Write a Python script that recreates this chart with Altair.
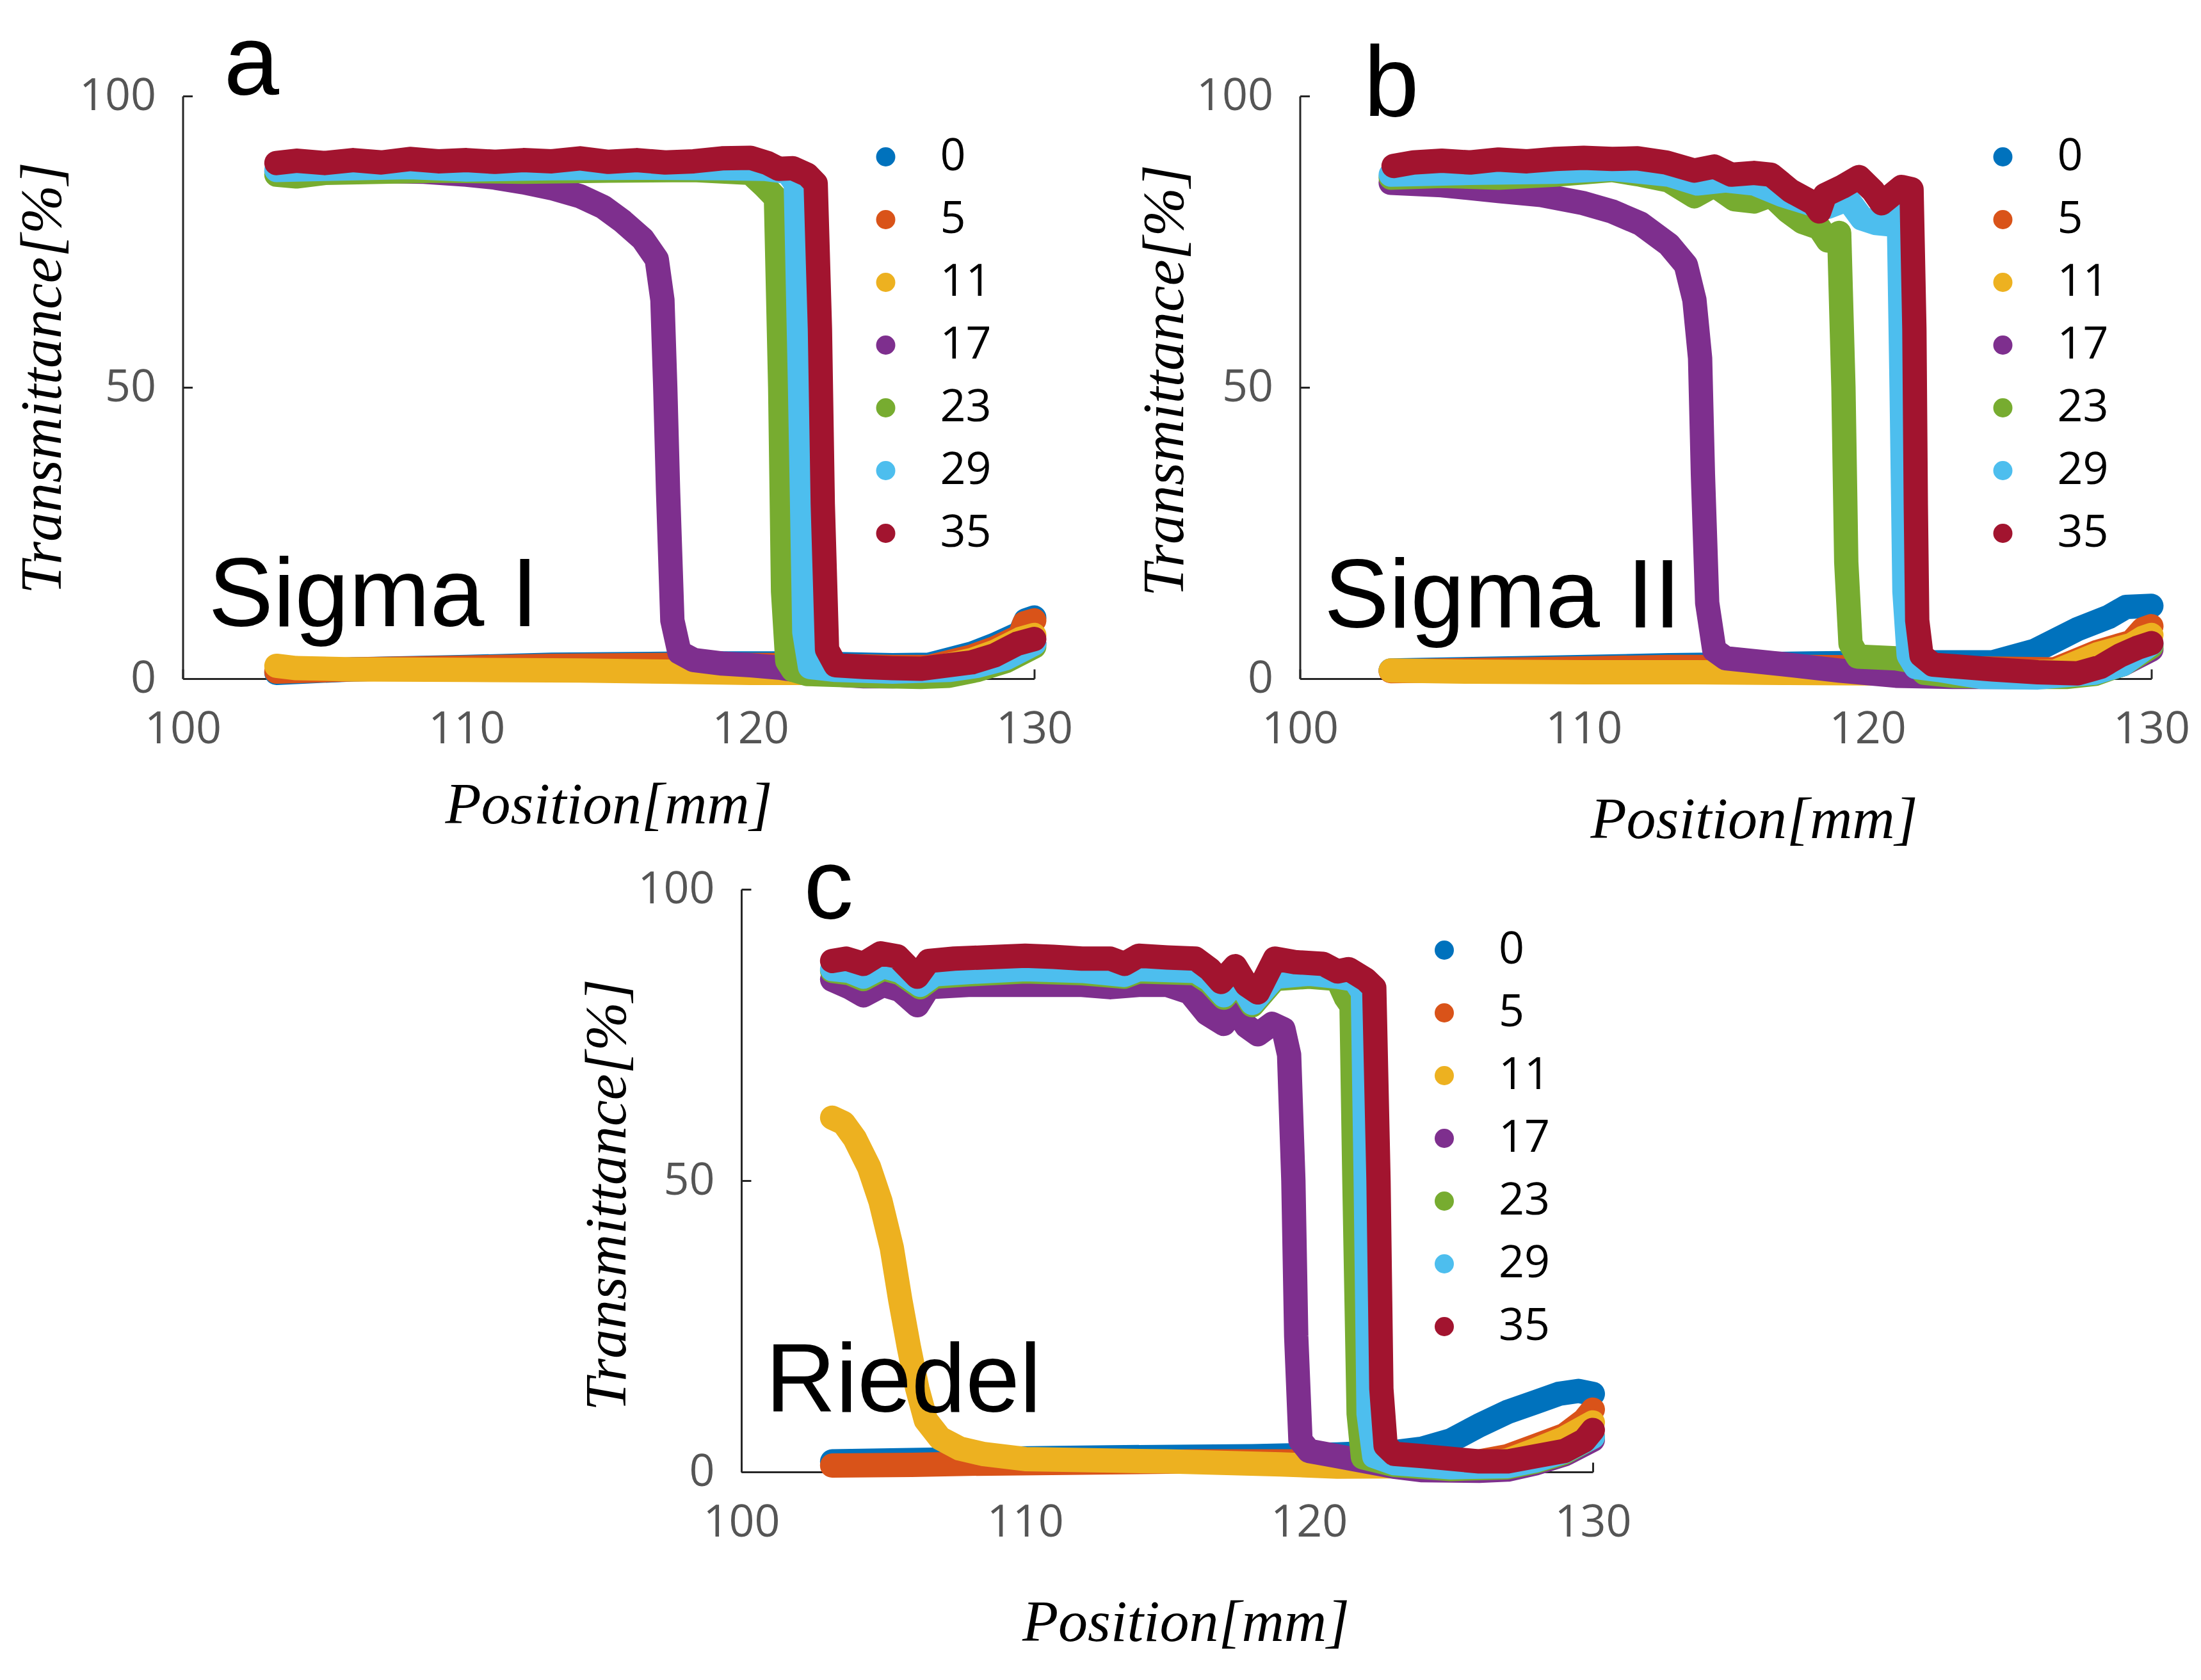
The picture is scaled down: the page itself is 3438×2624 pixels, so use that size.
import altair as alt
import pandas as pd

SERIES = ["0", "5", "11", "17", "23", "29", "35"]
COLORS = ["#0072BD", "#D95319", "#EDB120", "#7E2F8E", "#77AC30", "#4DBEEE", "#A2142F"]
X_TICKS = [100, 110, 120, 130]
Y_TICKS = [0, 50, 100]

# ---------------- panel a (Sigma I) ----------------
A_0 = [(103.3, 1.0), (106, 1.6), (110, 2.0), (113, 2.4), (118, 2.6), (122, 2.6), (125, 2.3),
       (126.3, 2.4), (127.8, 4.3), (128.6, 5.8), (129.5, 7.8), (129.7, 10.0), (130, 10.5)]
A_5 = [(103.3, 1.2), (106, 1.6), (110, 1.9), (113, 2.2), (118, 2.4), (122, 2.3), (125, 2.0),
       (126.3, 2.0), (127.8, 3.8), (128.6, 5.2), (129.5, 7.3), (129.65, 9.5), (130, 10.0)]
A_11 = [(103.3, 2.2), (104, 1.8), (106, 1.6), (110, 1.5), (114, 1.4), (117, 1.2), (120, 1.0),
        (123, 1.0), (125, 1.1), (126.3, 1.6), (127.8, 3.2), (128.6, 4.6), (129.5, 6.8), (130, 7.5)]
A_17 = [(103.3, 87.0), (106, 87.2), (108.5, 87.0), (110, 86.5), (111, 86.0), (112, 85.2), (113, 84.2),
        (114, 82.8), (114.8, 81.0), (115.5, 78.5), (116.2, 75.5), (116.7, 72.0), (116.9, 65.0),
        (117.0, 50.0), (117.1, 32.0), (117.25, 10.0), (117.5, 4.5), (118, 3.2), (119, 2.6),
        (120, 2.3), (121, 1.9), (122, 1.2), (123, 0.7), (124, 0.4), (125, 0.4), (126, 0.6),
        (127, 0.9), (128, 1.8), (129, 3.5), (130, 6.0)]
A_23 = [(103.3, 86.5), (104, 86.2), (105, 86.8), (107, 87.0), (109, 87.2), (112, 87.0), (115, 87.2),
        (118, 87.3), (120, 86.8), (120.5, 84.5), (120.9, 82.5), (121.05, 50.0), (121.15, 15.0),
        (121.3, 3.0), (121.5, 1.5), (122, 0.8), (124, 0.5), (126, 0.3), (127, 0.5), (128, 1.5),
        (129, 3.0), (130, 5.5)]
A_29 = [(103.3, 87.3), (105, 87.5), (108, 87.8), (110, 87.4), (113, 87.6), (116, 87.7), (119, 87.6),
        (120.5, 87.5), (121.3, 87.0), (121.6, 85.0), (121.75, 50.0), (121.9, 8.0), (122.1, 2.0),
        (123, 1.5), (125, 1.2), (127, 1.5), (128, 2.2), (129, 3.5), (130, 6.0)]
A_35 = [(103.3, 88.5), (104, 88.9), (105, 88.5), (106, 89.0), (107, 88.6), (108, 89.2), (109, 88.8),
        (110, 89.0), (111, 88.7), (112, 89.0), (113, 88.8), (114, 89.3), (115, 88.7), (116, 89.0),
        (117, 88.6), (118, 88.8), (119, 89.3), (120, 89.4), (120.6, 88.5), (121, 87.5),
        (121.5, 87.6), (122, 86.5), (122.3, 85.0), (122.45, 60.0), (122.55, 30.0), (122.7, 5.0),
        (123, 2.3), (124, 2.0), (125, 1.8), (126, 1.7), (127.8, 2.8), (128.6, 4.0), (129.4, 6.0),
        (130, 6.8)]

# ---------------- panel b (Sigma II) ----------------
B_0 = [(103.2, 1.4), (108, 1.8), (113, 2.3), (118, 2.6), (122, 2.8), (124.4, 2.8), (125.9, 4.8),
       (127.4, 8.5), (128.5, 10.6), (129.1, 12.3), (130, 12.5)]
B_5 = [(103.2, 1.3), (108, 1.6), (113, 2.0), (118, 2.0), (123, 1.8), (126.6, 1.6), (128.1, 4.6),
       (129.3, 6.3), (129.7, 8.5), (130, 9.0)]
B_11 = [(103.2, 1.4), (106, 1.2), (110, 1.1), (114, 1.1), (117, 1.0), (120, 0.9), (123, 0.8),
        (126.6, 1.2), (128.1, 4.2), (129.3, 5.8), (129.7, 7.0), (130, 7.5)]
B_17 = [(103.2, 85.1), (105, 84.7), (107, 83.7), (108.5, 83.0), (110, 81.6), (111, 80.2), (112, 78.1),
        (113, 74.5), (113.6, 71.0), (113.9, 65.0), (114.1, 55.0), (114.2, 35.0), (114.35, 13.0),
        (114.6, 4.9), (115, 3.5), (117, 2.5), (119, 1.4), (121, 0.5), (123, 0.3), (125, 0.3),
        (127, 0.4), (128, 1.0), (129, 2.5), (130, 5.0)]
B_23 = [(103.2, 86.0), (105, 86.3), (107, 86.0), (109, 86.5), (111, 87.3), (112, 86.5), (113, 85.5),
        (113.9, 82.8), (114.6, 84.7), (115.3, 82.3), (116.0, 81.9), (116.6, 83.0), (117.2, 80.2),
        (117.7, 78.4), (118.3, 77.4), (118.6, 75.2), (119.0, 76.5), (119.15, 50.0), (119.25, 20.0),
        (119.4, 6.0), (119.65, 3.8), (121, 3.5), (121.6, 3.0), (122, 1.0), (123, 0.5), (125, 0.3),
        (127, 0.3), (128, 0.8), (129, 2.5), (130, 5.5)]
B_29 = [(103.2, 86.5), (106, 86.8), (109, 87.0), (111, 87.5), (113, 86.5), (114, 85.0), (115, 85.5),
        (116, 85.0), (117, 83.0), (118, 81.5), (118.6, 81.0), (119.3, 82.3), (119.8, 79.0),
        (120.3, 78.2), (120.7, 78.0), (121.1, 80.5), (121.2, 50.0), (121.3, 15.0), (121.45, 4.0),
        (121.7, 2.0), (122.5, 1.5), (124, 0.3), (126, 0.2), (128, 1.0), (129, 2.5), (130, 6.0)]
B_35 = [(103.3, 88.0), (104, 88.6), (105, 88.9), (106, 88.6), (107, 89.1), (108, 88.8), (109, 89.2),
        (110, 89.4), (111, 89.2), (111.9, 89.3), (112.9, 88.6), (113.9, 87.2), (114.6, 87.9),
        (115.2, 86.5), (116.0, 86.8), (116.6, 86.5), (117.3, 83.7), (118.1, 81.6), (118.3, 80.2),
        (118.5, 83.0), (119.1, 84.4), (119.7, 86.1), (120.2, 83.7), (120.5, 81.6), (121.2, 84.4),
        (121.55, 84.0), (121.65, 60.0), (121.7, 30.0), (121.75, 10.0), (121.9, 4.0), (122.3, 2.4),
        (124.4, 1.6), (126, 1.1), (127.4, 0.9), (128.2, 2.0), (128.9, 4.0), (129.5, 5.3), (130, 6.1)]

# ---------------- panel c (Riedel) ----------------
C_0 = [(103.2, 1.8), (108, 2.2), (113, 2.5), (118, 2.7), (121, 3.0), (123, 3.4), (124, 4.0),
       (125, 5.4), (126, 8.0), (127, 10.3), (128, 12.0), (128.8, 13.4), (129.5, 13.9), (130, 13.4)]
C_5 = [(103.2, 1.1), (106, 1.2), (108, 1.4), (112, 1.6), (116, 1.8), (120, 1.8), (124, 1.6),
       (126, 1.8), (127, 2.7), (128, 4.5), (129, 6.3), (129.7, 8.9), (130, 10.7)]
C_11 = [(103.2, 60.8), (103.6, 59.9), (104, 57.2), (104.5, 52.3), (104.9, 46.5), (105.3, 38.5),
        (105.6, 29.5), (105.9, 21.5), (106.2, 14.3), (106.5, 8.9), (107, 5.8), (107.7, 4.0),
        (108.5, 3.1), (110, 2.2), (115, 1.8), (119, 1.3), (121, 0.9), (124, 1.0), (126, 1.2),
        (127, 2.0), (128, 3.8), (129, 5.8), (130, 8.5)]
C_17 = [(103.2, 84.5), (103.8, 83.2), (104.3, 81.8), (105, 83.6), (105.6, 82.7), (106.2, 80.1),
        (106.6, 83.2), (108, 83.6), (110, 83.6), (112, 83.6), (113, 83.2), (114, 83.6), (115, 83.6),
        (115.8, 82.3), (116.4, 78.7), (117, 76.9), (117.4, 79.6), (117.8, 76.5), (118.2, 75.1),
        (118.7, 76.9), (119.1, 76.0), (119.3, 71.6), (119.45, 50.0), (119.55, 23.3), (119.7, 5.4),
        (120, 3.6), (121, 2.7), (122, 1.8), (123, 0.9), (124, 0.3), (126, 0.2), (127, 0.4),
        (128, 1.5), (129, 3.0), (130, 5.5)]
C_23 = [(103.2, 86.0), (103.8, 85.6), (104.3, 84.6), (105, 86.4), (105.6, 85.6), (106.3, 83.2),
        (106.8, 85.0), (108, 85.4), (110, 85.9), (112, 85.6), (113.5, 85.0), (114, 85.9), (116, 85.6),
        (116.5, 84.0), (117, 81.4), (117.5, 84.0), (118, 80.1), (118.8, 84.6), (120, 85.0),
        (121, 84.6), (121.3, 81.4), (121.5, 80.0), (121.6, 50.0), (121.75, 10.0), (121.9, 2.5),
        (123, 1.2), (125, 0.5), (127, 0.8), (128, 1.8), (129, 3.3), (130, 6.0)]
C_29 = [(103.2, 86.3), (103.8, 86.0), (104.3, 85.0), (105, 86.8), (105.6, 86.0), (106.3, 83.6),
        (106.8, 85.4), (108, 85.8), (110, 86.3), (112, 86.0), (113.5, 85.3), (114, 86.3), (116, 86.0),
        (116.5, 84.5), (117, 81.8), (117.5, 84.5), (118, 80.5), (118.8, 85.0), (120, 85.5),
        (121, 85.0), (121.6, 84.5), (121.9, 82.3), (122.0, 50.0), (122.1, 10.0), (122.3, 2.7),
        (123, 1.5), (125, 0.8), (127, 1.0), (128, 2.0), (129, 3.5), (130, 6.0)]
C_35 = [(103.2, 87.7), (103.7, 88.1), (104.3, 87.2), (104.9, 89.0), (105.5, 88.5), (106.2, 85.0),
        (106.6, 87.7), (107.5, 88.1), (108.5, 88.3), (110, 88.6), (111, 88.4), (112, 88.1),
        (113, 88.1), (113.5, 87.2), (114, 88.6), (115, 88.3), (116, 88.1), (116.5, 86.3),
        (116.9, 84.1), (117.4, 86.8), (117.8, 83.6), (118.2, 82.3), (118.8, 88.1), (119.5, 87.5),
        (120.5, 87.2), (121, 85.9), (121.4, 86.3), (122, 84.5), (122.3, 83.1), (122.45, 50.0),
        (122.55, 14.3), (122.7, 4.5), (123, 3.1), (124, 2.7), (126, 1.8), (127, 1.8), (128, 2.7),
        (129, 3.6), (129.7, 5.4), (130, 7.2)]

PANEL_A = [A_0, A_5, A_11, A_17, A_23, A_29, A_35]
PANEL_B = [B_0, B_5, B_11, B_17, B_23, B_29, B_35]
PANEL_C = [C_0, C_5, C_11, C_17, C_23, C_29, C_35]

# ---------------- styling ----------------
W, H = 1330, 910
LW = 38
DOT = 1130
SANS = "Liberation Sans, Arial, sans-serif"
TICKFONT = "Open Sans"
SERIF = "Liberation Serif"
AXIS_COLOR = "#262626"
LABEL_COLOR = "#555555"


def panel(series_pts, letter, letter_xy, name, name_xy, xpad, xtitle_x, ypad, ytitle_y):
    xs = alt.Scale(domain=[X_TICKS[0], X_TICKS[-1]], nice=False, zero=False)
    ys = alt.Scale(domain=[Y_TICKS[0], Y_TICKS[-1]], nice=False, zero=False)
    cs = alt.Scale(domain=SERIES, range=COLORS)
    x_axis = alt.Axis(values=X_TICKS, ticks=False, tickSize=0, grid=False, domainColor=AXIS_COLOR,
                      domainWidth=3, labelFont=TICKFONT, labelFontSize=70, labelColor=LABEL_COLOR,
                      labelPadding=45, labelFlush=False, title="Position[mm]", titleFont=SERIF,
                      titleFontStyle="italic", titleFontWeight="normal", titleFontSize=92,
                      titleColor="black", titlePadding=xpad, titleX=xtitle_x)
    y_axis = alt.Axis(values=Y_TICKS, ticks=False, tickSize=0, grid=False, domainColor=AXIS_COLOR,
                      domainWidth=3, labelFont=TICKFONT, labelFontSize=70, labelColor=LABEL_COLOR,
                      labelPadding=42, labelFlush=False, title="Transmittance[%]", titleFont=SERIF,
                      titleFontStyle="italic", titleFontWeight="normal", titleFontSize=92,
                      titleColor="black", titlePadding=ypad, titleY=ytitle_y)
    legend = alt.Legend(orient="none", legendX=1063, legendY=60, title=None, symbolType="circle",
                        symbolSize=900, symbolStrokeWidth=0, symbolOpacity=1, labelFont=TICKFONT,
                        labelFontSize=70, labelColor="black", rowPadding=28, labelOffset=50, padding=0)
    color = alt.Color("series:N", scale=cs, legend=legend)
    layers = []
    for i, (lab, pts) in enumerate(zip(SERIES, series_pts)):
        df = pd.DataFrame(pts, columns=["pos", "T"])
        df["series"] = lab
        base = alt.Chart(df)
        dots = base.mark_circle(size=DOT, opacity=1).encode(
            x=alt.X("pos:Q", scale=xs, axis=x_axis if i == 0 else None),
            y=alt.Y("T:Q", scale=ys, axis=y_axis if i == 0 else None),
            color=color,
        )
        line = base.mark_line(strokeWidth=LW, strokeCap="round", strokeJoin="round").encode(
            x=alt.X("pos:Q", scale=xs, axis=None),
            y=alt.Y("T:Q", scale=ys, axis=None),
            color=color,
        )
        layers += [dots, line]

    ann_letter = pd.DataFrame({"pos": [letter_xy[0]], "T": [letter_xy[1]], "label": [letter]})
    ann_name = pd.DataFrame({"pos": [name_xy[0]], "T": [name_xy[1]], "label": [name]})
    for df, size in ((ann_letter, 155), (ann_name, 152)):
        layers.append(
            alt.Chart(df).mark_text(font=SANS, fontSize=size, align="left", baseline="alphabetic",
                                    color="black").encode(
                x=alt.X("pos:Q", scale=xs, axis=None),
                y=alt.Y("T:Q", scale=ys, axis=None),
                text="label:N",
            )
        )

    # inward-pointing ticks (MATLAB style), drawn by a second pair of axes
    tick_df = pd.DataFrame({"pos": [X_TICKS[0], X_TICKS[-1]], "T": [Y_TICKS[0], Y_TICKS[-1]]})
    layers.append(
        alt.Chart(tick_df).mark_point(opacity=0).encode(
            x=alt.X("pos:Q", scale=xs, axis=alt.Axis(orient="bottom", offset=-15, tickSize=15,
                                                    tickWidth=3, tickColor=AXIS_COLOR, domain=False,
                                                    labels=False, title=None, grid=False,
                                                    values=X_TICKS)),
            y=alt.Y("T:Q", scale=ys, axis=alt.Axis(orient="left", offset=-15, tickSize=15,
                                                  tickWidth=3, tickColor=AXIS_COLOR, domain=False,
                                                  labels=False, title=None, grid=False,
                                                  values=Y_TICKS)),
        )
    )
    return alt.layer(*layers).resolve_axis(x="independent", y="independent").properties(
        width=W, height=H)


pa = panel(PANEL_A, "a", (101.45, 100.33), "Sigma I", (100.9, 9.0), 38, 665, 10, 440)
pb = panel(PANEL_B, "b", (102.25, 96.6), "Sigma II", (100.85, 8.8), 61, 709, 2, 444)
pc = panel(PANEL_C, "c", (102.2, 95.1), "Riedel", (100.85, 10.3), 76, 694, 0, 477)

top = alt.hconcat(pa, pb, spacing=415, bounds="flush").resolve_legend(color="independent")
chart = (
    alt.vconcat(top, pc, spacing=-17, center=True)
    .resolve_legend(color="independent")
    .properties(padding={"left": 12, "top": 14, "right": 5, "bottom": 5}, background="white")
    .configure_view(stroke=None)
)

chart.save("out.html", embed_options={"renderer": "svg", "actions": False})
